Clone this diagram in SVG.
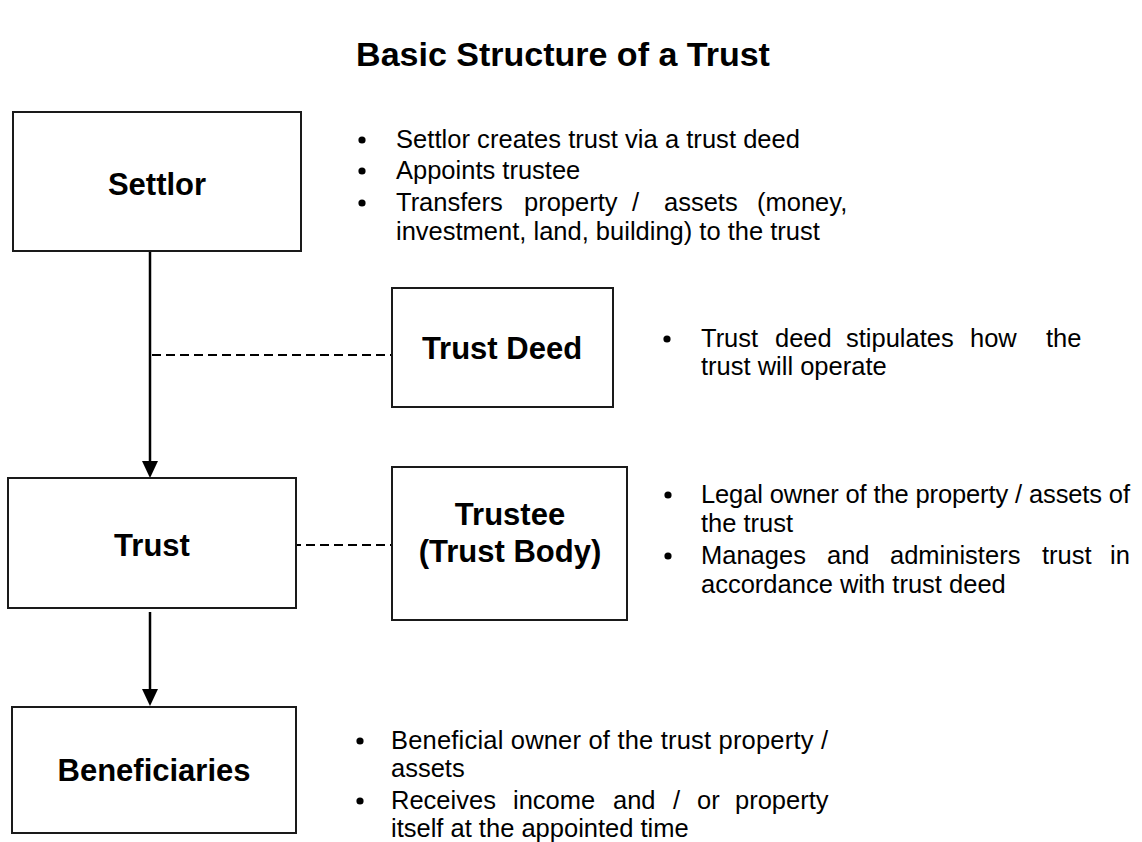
<svg xmlns="http://www.w3.org/2000/svg" width="1142" height="842" viewBox="0 0 1142 842">
<style>
.box{fill:#fff;stroke:#1a1a1a;stroke-width:2}
.lbl{font-family:"Liberation Sans",Arial,sans-serif;font-weight:bold;font-size:31px;fill:#000;text-anchor:middle}
.ttl{font-family:"Liberation Sans",Arial,sans-serif;font-weight:bold;font-size:34px;fill:#000;text-anchor:middle}
.txt{font-family:"Liberation Sans",Arial,sans-serif;font-size:25.5px;fill:#000}
.arr{stroke:#000;stroke-width:2.5;fill:none}
.dash{stroke:#000;stroke-width:2;stroke-dasharray:9 5;fill:none}
.dot{fill:#000}
</style>
<rect width="1142" height="842" fill="#fff"/>
<text class="ttl" x="563" y="66">Basic Structure of a Trust</text>

<g id="connectors">
<line class="arr" x1="150" y1="251" x2="150" y2="462"/>
<path d="M142,461 L158,461 L150,478 Z" fill="#000"/>
<line class="arr" x1="150" y1="612" x2="150" y2="690"/>
<path d="M142,689 L158,689 L150,706 Z" fill="#000"/>
<line class="dash" x1="152" y1="355" x2="392" y2="355"/>
<line class="dash" x1="292" y1="545" x2="392" y2="545"/>
</g>

<g id="settlor">
<rect class="box" x="13" y="112" width="288" height="139"/>
<text class="lbl" x="157" y="195">Settlor</text>
</g>
<g id="trust-deed">
<rect class="box" x="392" y="288" width="221" height="119"/>
<text class="lbl" x="502" y="359">Trust Deed</text>
</g>
<g id="trust">
<rect class="box" x="8" y="478" width="288" height="130"/>
<text class="lbl" x="152" y="556">Trust</text>
</g>
<g id="trustee">
<rect class="box" x="392" y="467" width="235" height="153"/>
<text class="lbl" x="510" y="525">Trustee</text>
<text class="lbl" x="510" y="562">(Trust Body)</text>
</g>
<g id="beneficiaries">
<rect class="box" x="12" y="707" width="284" height="126"/>
<text class="lbl" x="154" y="781">Beneficiaries</text>
</g>

<g id="settlor-notes">
<circle class="dot" cx="362" cy="140" r="3.6"/>
<circle class="dot" cx="362" cy="171" r="3.6"/>
<circle class="dot" cx="362" cy="203" r="3.6"/>
<text class="txt" x="396" y="148" textLength="404" lengthAdjust="spacing">Settlor creates trust via a trust deed</text>
<text class="txt" x="396" y="179">Appoints trustee</text>
<text class="txt" y="211"><tspan x="396">Transfers</tspan><tspan x="524">property</tspan><tspan x="632">/</tspan><tspan x="664">assets</tspan><tspan x="757">(money,</tspan></text>
<text class="txt" x="396" y="240">investment, land, building) to the trust</text>
</g>

<g id="deed-notes">
<circle class="dot" cx="667" cy="339" r="3.6"/>
<text class="txt" y="347"><tspan x="701">Trust</tspan><tspan x="775">deed</tspan><tspan x="846">stipulates</tspan><tspan x="970">how</tspan><tspan x="1046">the</tspan></text>
<text class="txt" x="701" y="375">trust will operate</text>
</g>

<g id="trustee-notes">
<circle class="dot" cx="668" cy="495" r="3.6"/>
<circle class="dot" cx="668" cy="556" r="3.6"/>
<text class="txt" x="701" y="503" textLength="429" lengthAdjust="spacing">Legal owner of the property / assets of</text>
<text class="txt" x="701" y="532">the trust</text>
<text class="txt" y="564"><tspan x="701">Manages</tspan><tspan x="827">and</tspan><tspan x="890">administers</tspan><tspan x="1042">trust</tspan><tspan x="1110">in</tspan></text>
<text class="txt" x="701" y="593">accordance with trust deed</text>
</g>

<g id="beneficiaries-notes">
<circle class="dot" cx="360" cy="741" r="3.6"/>
<circle class="dot" cx="360" cy="801" r="3.6"/>
<text class="txt" x="391" y="749" textLength="437" lengthAdjust="spacing">Beneficial owner of the trust property /</text>
<text class="txt" x="391" y="777">assets</text>
<text class="txt" y="809"><tspan x="391">Receives</tspan><tspan x="513">income</tspan><tspan x="613">and</tspan><tspan x="673">/</tspan><tspan x="697">or</tspan><tspan x="735">property</tspan></text>
<text class="txt" x="391" y="837">itself at the appointed time</text>
</g>
</svg>
